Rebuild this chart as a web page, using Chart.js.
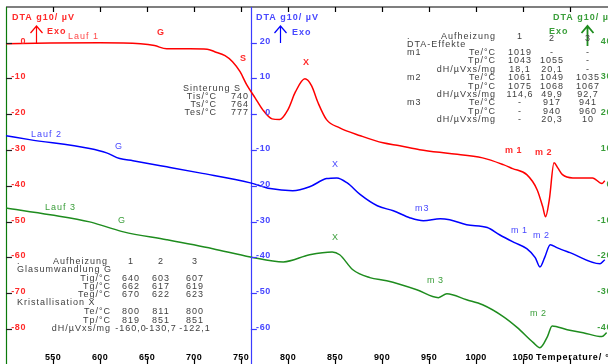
<!DOCTYPE html>
<html>
<head>
<meta charset="utf-8">
<script src="https://cdn.jsdelivr.net/npm/chart.js"></script>
<style>
  html, body { margin: 0; padding: 0; background: #fff; overflow: hidden; width: 608px; height: 364px; }
  #c { position: absolute; left: 0; top: 0; }
</style>
</head>
<body>
<canvas id="c" width="620" height="370"></canvas>
<script>
// --- data ---
// Lauf 1 (red axis)
const lauf1Temp = [500,547,600,643,658,671,696,714,722,733,741,749,756,765,773,783,791,800,808,818,825,832,841,855,877,901,919,940,972,1007,1029,1039,1054,1065,1071,1074,1078,1083,1087,1092,1103,1124,1134,1137];
const lauf1Dta  = [-0.3,-0.1,0,-0.3,-0.8,-1.7,-1.7,-1.8,-2.5,-3.6,-5.3,-8.1,-11.7,-15.4,-18.7,-21.3,-21.5,-18.7,-13.7,-10.1,-12,-16.8,-21.5,-23.8,-26,-28,-28.8,-29.9,-31,-32.2,-34.1,-35.2,-36.9,-41.1,-45.9,-48.7,-43.9,-33.6,-35,-36.9,-37.8,-37.8,-39.4,-38.6];
// Lauf 2 (blue axis)
const lauf2Temp = [500,525,589,607,621,635,671,706,760,781,805,823,841,852,863,877,895,912,930,944,962,972,990,1012,1025,1041,1054,1063,1068,1073,1079,1086,1100,1132,1137];
const lauf2Dta  = [-6.0,-7.1,-9.6,-10.8,-12.4,-13.0,-14.7,-16.4,-19.2,-20.8,-21.4,-20.3,-18.0,-17.8,-19.2,-22.5,-25.6,-27.0,-29.0,-29.8,-29.2,-29.5,-30.9,-31.7,-33.7,-35.9,-37.6,-40.1,-42.7,-40.1,-36.5,-37.3,-38.7,-41.8,-40.7];
// Lauf 3 (green axis)
const lauf3Temp = [500,547,589,607,625,671,720,760,795,823,847,855,869,887,905,937,960,969,990,1007,1029,1044,1061,1068,1076,1081,1097,1114,1134,1139];
const lauf3Dta  = [-6.2,-8.1,-10.1,-11.5,-12.9,-15.1,-17.6,-19.9,-21.3,-19.3,-18.5,-19.3,-23.5,-25.7,-26.6,-29.1,-31.3,-30.2,-31.9,-33.3,-36.6,-39.7,-43.9,-45.3,-42.2,-39.2,-40.3,-41.1,-42.2,-41.1];

// tick values
const xTicks = [550,600,650,700,750,800,850,900,950,1000,1050,1100];
const xLabels = [550,600,650,700,750,800,850,900,950,1000,1050];
const redTicks = [0,-10,-20,-30,-40,-50,-60,-70,-80];
const blueTicks = [20,10,0,-10,-20,-30,-40,-50,-60];
const greenTicks = [40,30,20,10,0,-10,-20,-30,-40];

// tables
const sinterRows = [["Tis/°C","740"],["Ts/°C","764"],["Tes/°C","777"]];
const effektRows = [
  ["m1","Te/°C","1019","-","-"],
  ["","Tp/°C","1043","1055","-"],
  ["","dH/µVxs/mg","18,1","20,1","-"],
  ["m2","Te/°C","1061","1049","1035"],
  ["","Tp/°C","1075","1068","1067"],
  ["","dH/µVxs/mg","114,6","49,9","92,7"],
  ["m3","Te/°C","-","917","941"],
  ["","Tp/°C","-","940","960"],
  ["","dH/µVxs/mg","-","20,3","10"]
];
const glasRows = [["Tig/°C","640","603","607"],["Tg/°C","662","617","619"],["Teg/°C","670","622","623"]];
const kristRows = [["Te/°C","800","811","800"],["Tp/°C","819","851","851"],["dH/µVxs/mg","-160,0","-130,7","-122,1"]];

const RED = '#ff0000', BLUE = '#0000ff', GREEN = '#1e8c1e';
const RED_T = '#ff2a2a', BLUE_T = '#4848ff', GREEN_T = '#3a9e3a', GREY = '#404040';
const FONT = '"Liberation Sans", Arial, sans-serif';

function put(ctx, s, x, y, color, align, bold, size, spacing) {
  ctx.font = (bold ? 'bold ' : '') + (size || 9) + 'px ' + FONT;
  ctx.letterSpacing = (spacing === undefined ? 1 : spacing) + 'px';
  ctx.fillStyle = color;
  ctx.textAlign = align || 'left';
  ctx.textBaseline = 'alphabetic';
  ctx.fillText(s, x, y);
}

function arrow(ctx, x, y0, y1, color, w) {
  ctx.strokeStyle = color;
  ctx.lineWidth = w || 1.2;
  ctx.beginPath();
  ctx.moveTo(x, y0); ctx.lineTo(x, y1);
  ctx.moveTo(x - 6, y1 + 7); ctx.lineTo(x, y1); ctx.lineTo(x + 6, y1 + 7);
  ctx.stroke();
}

const axesPlugin = {
  id: 'dtaAxes',
  beforeDatasetsDraw(chart) {
    const ctx = chart.ctx, a = chart.chartArea;
    const x = chart.scales.x;
    ctx.save();
    // top frame with ticks
    ctx.strokeStyle = '#000'; ctx.lineWidth = 1.2;
    ctx.beginPath();
    ctx.moveTo(a.left, a.top); ctx.lineTo(a.right, a.top);
    xTicks.forEach(t => {
      const px = Math.round(x.getPixelForValue(t)) + 0.5;
      ctx.moveTo(px, a.top); ctx.lineTo(px, a.top + 5);
      ctx.moveTo(px, a.bottom); ctx.lineTo(px, a.bottom - 6);
    });
    ctx.stroke();
    // left (red) axis line, drawn green like the reference
    ctx.strokeStyle = '#0a7a0a'; ctx.lineWidth = 1.2;
    ctx.beginPath(); ctx.moveTo(a.left + 0.5, a.top); ctx.lineTo(a.left + 0.5, a.bottom); ctx.stroke();
    // blue axis line
    const bx = Math.round(x.getPixelForValue(760.5)) + 0.5;
    ctx.strokeStyle = '#3c3cff';
    ctx.beginPath(); ctx.moveTo(bx, a.top); ctx.lineTo(bx, a.bottom); ctx.stroke();
    ctx.restore();
  },
  afterDraw(chart) {
    const ctx = chart.ctx, a = chart.chartArea;
    const x = chart.scales.x;
    const yr = chart.scales.yRed, yb = chart.scales.yBlue, yg = chart.scales.yGreen;
    ctx.save();
    // red ticks
    ctx.lineWidth = 1.2;
    redTicks.forEach(v => {
      const py = Math.round(yr.getPixelForValue(v)) + 0.5;
      ctx.strokeStyle = '#202020';
      ctx.beginPath(); ctx.moveTo(a.left, py); ctx.lineTo(a.left + 6, py); ctx.stroke();
      put(ctx, String(v), a.left + 20, py, RED_T, 'right', true, 9, 0.6);
    });
    const bx = x.getPixelForValue(760.5);
    blueTicks.forEach(v => {
      const py = Math.round(yb.getPixelForValue(v)) + 0.5;
      ctx.strokeStyle = '#3c3cff';
      ctx.beginPath(); ctx.moveTo(bx, py); ctx.lineTo(bx + 6, py); ctx.stroke();
      put(ctx, String(v), bx + 20, py, BLUE_T, 'right', true, 9, 0.6);
    });
    greenTicks.forEach(v => {
      const py = Math.round(yg.getPixelForValue(v)) + 0.5;
      put(ctx, String(v), a.right - 5, py, GREEN_T, 'right', true, 9, 0.6);
    });
    // x labels
    xLabels.forEach(t => {
      put(ctx, String(t), x.getPixelForValue(t), 360, '#000', 'center', true, 9, 0.3);
    });
    put(ctx, 'Temperature/ °C', 536, 360, '#000', 'left', true, 9, 0.8);

    // axis titles and arrows
    put(ctx, 'DTA g10/ µV', 12, 20, RED_T, 'left', true, 9, 1);
    arrow(ctx, 36.5, 43, 26, RED);
    put(ctx, 'Exo', 47, 34, RED_T, 'left', true, 9, 1);
    put(ctx, 'DTA g10/ µV', 256, 20, BLUE_T, 'left', true, 9, 1);
    arrow(ctx, 280.5, 43, 26, BLUE);
    put(ctx, 'Exo', 292, 35, BLUE_T, 'left', true, 9, 1);
    put(ctx, 'DTA g10/ µV', 553, 20, GREEN_T, 'left', true, 9, 1);
    arrow(ctx, 587.5, 46, 26, GREEN, 1.8);
    put(ctx, 'Exo', 549, 34, GREEN_T, 'left', true, 9, 1);

    // curve annotations
    put(ctx, 'Lauf 1', 68, 39, '#ff4a4a', 'left', false);
    put(ctx, 'G', 157, 35, RED_T, 'left', true);
    put(ctx, 'S', 240, 61, RED_T, 'left', true);
    put(ctx, 'X', 303, 65, RED_T, 'left', true);
    put(ctx, 'm 1', 505, 153, RED_T, 'left', true, 9, 0.5);
    put(ctx, 'm 2', 535, 155, RED_T, 'left', true, 9, 0.5);
    put(ctx, 'Lauf 2', 31, 137, BLUE_T, 'left', false);
    put(ctx, 'G', 115, 149, BLUE_T, 'left', false);
    put(ctx, 'X', 332, 167, BLUE_T, 'left', false);
    put(ctx, 'm3', 415, 211, BLUE_T, 'left', false);
    put(ctx, 'm 1', 511, 233, BLUE_T, 'left', false, 9, 0.5);
    put(ctx, 'm 2', 533, 238, BLUE_T, 'left', false, 9, 0.5);
    put(ctx, 'Lauf 3', 45, 210, GREEN_T, 'left', false);
    put(ctx, 'G', 118, 223, GREEN_T, 'left', false);
    put(ctx, 'X', 332, 240, GREEN_T, 'left', false);
    put(ctx, 'm 3', 427, 283, GREEN_T, 'left', false, 9, 0.5);
    put(ctx, 'm 2', 530, 316, GREEN_T, 'left', false, 9, 0.5);

    // Sinterung table
    put(ctx, 'Sinterung S', 183, 91, GREY);
    sinterRows.forEach((r, i) => {
      const by = 99 + i * 8;
      put(ctx, r[0], 217, by, GREY, 'right');
      put(ctx, r[1], 249, by, GREY, 'right');
    });

    // DTA-Effekte table
    const ec = [520, 552, 588];
    put(ctx, '.', 407, 39, GREY);
    put(ctx, 'Aufheizung', 441, 39, GREY);
    ['1', '2', '3'].forEach((s, i) => put(ctx, s, ec[i], i ? 41 : 39, GREY, 'center'));
    put(ctx, 'DTA-Effekte', 407, 47, GREY);
    effektRows.forEach((r, i) => {
      const by = 55 + i * 8.4;
      if (r[0]) put(ctx, r[0], 407, by, GREY);
      put(ctx, r[1], 496, by, GREY, 'right');
      for (let k = 0; k < 3; k++) put(ctx, r[k + 2], ec[k], by, GREY, 'center');
    });

    // Glas / Kristallisation table
    const gc = [131, 161, 195];
    put(ctx, '.', 17, 264, GREY);
    put(ctx, 'Aufheizung', 53, 264, GREY);
    ['1', '2', '3'].forEach((s, i) => put(ctx, s, gc[i], 264, GREY, 'center'));
    put(ctx, 'Glasumwandlung G', 17, 272, GREY);
    glasRows.forEach((r, i) => {
      const by = 281 + i * 8;
      put(ctx, r[0], 111, by, GREY, 'right');
      for (let k = 0; k < 3; k++) put(ctx, r[k + 1], gc[k], by, GREY, 'center');
    });
    put(ctx, 'Kristallisation X', 17, 305, GREY);
    kristRows.forEach((r, i) => {
      const by = 314 + i * 8.5;
      put(ctx, r[0], 111, by, GREY, 'right');
      for (let k = 0; k < 3; k++) put(ctx, r[k + 1], gc[k], by, GREY, 'center');
    });
    ctx.restore();
  }
};

function pts(ts, vs) {
  return ts.map((t, i) => ({ x: t, y: vs[i] }));
}

function curve(label, ts, vs, color, axis) {
  return {
    label, data: pts(ts, vs), yAxisID: axis,
    borderColor: color, borderWidth: 1.5,
    pointRadius: 0, fill: false,
    cubicInterpolationMode: 'monotone'
  };
}

new Chart(document.getElementById('c'), {
  type: 'line',
  data: {
    datasets: [
      curve('Lauf 1', lauf1Temp, lauf1Dta, RED, 'yRed'),
      curve('Lauf 2', lauf2Temp, lauf2Dta, BLUE, 'yBlue'),
      curve('Lauf 3', lauf3Temp, lauf3Dta, GREEN, 'yGreen')
    ]
  },
  options: {
    responsive: false,
    animation: false,
    devicePixelRatio: 1,
    layout: { padding: { left: 6, top: 7, right: 3, bottom: 5.5 } },
    plugins: { legend: { display: false }, tooltip: { enabled: false } },
    scales: {
      x: { type: 'linear', min: 500, max: 1150, display: false },
      yRed: { type: 'linear', min: -90, max: 10, display: false },
      yBlue: { type: 'linear', min: -70, max: 30, display: false },
      yGreen: { type: 'linear', min: -50, max: 50, display: false }
    }
  },
  plugins: [axesPlugin]
});
</script>
</body>
</html>
